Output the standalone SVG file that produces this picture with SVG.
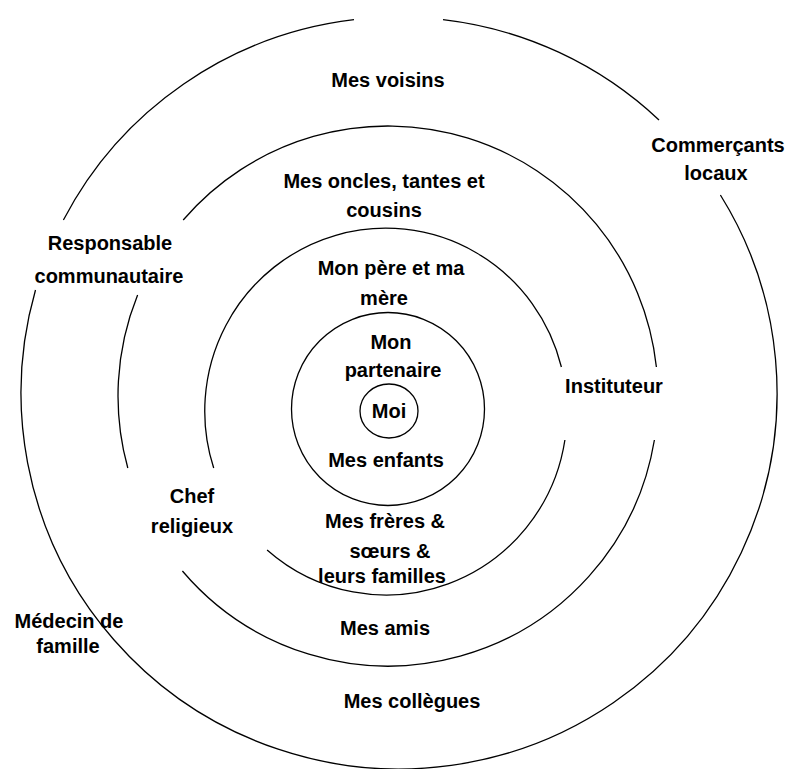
<svg xmlns="http://www.w3.org/2000/svg" width="793" height="769" viewBox="0 0 793 769">
<style>
  .ring { fill: none; stroke: #000; stroke-width: 1.3; }
  text { font-family: "Liberation Sans", Arial, sans-serif; font-weight: bold; font-size: 20px; fill: #000; text-anchor: middle; }
</style>
<rect width="793" height="769" fill="#fff"/>
<g id="rings">
  <path id="ring5" class="ring" d="M443,19.6 A378,376 0 0 1 659,120 M720.4,195 A378,376 0 1 1 35.5,290 M63.4,220 A378,376 0 0 1 354,19.7"/>
  <path id="ring4" class="ring" d="M183.2,220 A270,270 0 0 1 656.4,367 M654.4,440 A270,270 0 0 1 182.4,571 M127.8,468 A270,270 0 0 1 137.6,295"/>
  <path id="ring3" class="ring" d="M564.9,440 A181,183 0 0 1 267.1,550 M213.7,468 A181,183 0 1 1 561.4,367"/>
  <circle id="ring2" class="ring" cx="388" cy="409" r="96.5"/>
  <ellipse id="ring1" class="ring" cx="389" cy="411" rx="29" ry="27"/>
</g>
<g id="moi"><text x="389" y="418">Moi</text></g>
<g id="partenaire"><text x="391" y="349">Mon</text><text x="393" y="377">partenaire</text></g>
<g id="enfants"><text x="386" y="467">Mes enfants</text></g>
<g id="parents"><text x="391" y="275">Mon père et ma</text><text x="384" y="305">mère</text></g>
<g id="freres"><text x="385" y="528">Mes frères &amp;</text><text x="390" y="558">sœurs &amp;</text><text x="382" y="583">leurs familles</text></g>
<g id="oncles"><text x="384" y="188">Mes oncles, tantes et</text><text x="384" y="217">cousins</text></g>
<g id="amis"><text x="385" y="635">Mes amis</text></g>
<g id="voisins"><text x="388" y="87">Mes voisins</text></g>
<g id="collegues"><text x="412" y="708">Mes collègues</text></g>
<g id="commercants"><text x="718" y="152">Commerçants</text><text x="716" y="180">locaux</text></g>
<g id="responsable"><text x="110" y="250">Responsable</text><text x="109" y="283">communautaire</text></g>
<g id="instituteur"><text x="614" y="393">Instituteur</text></g>
<g id="chef"><text x="192" y="503">Chef</text><text x="192" y="533">religieux</text></g>
<g id="medecin"><text x="69" y="628">Médecin de</text><text x="68" y="653">famille</text></g>
</svg>
